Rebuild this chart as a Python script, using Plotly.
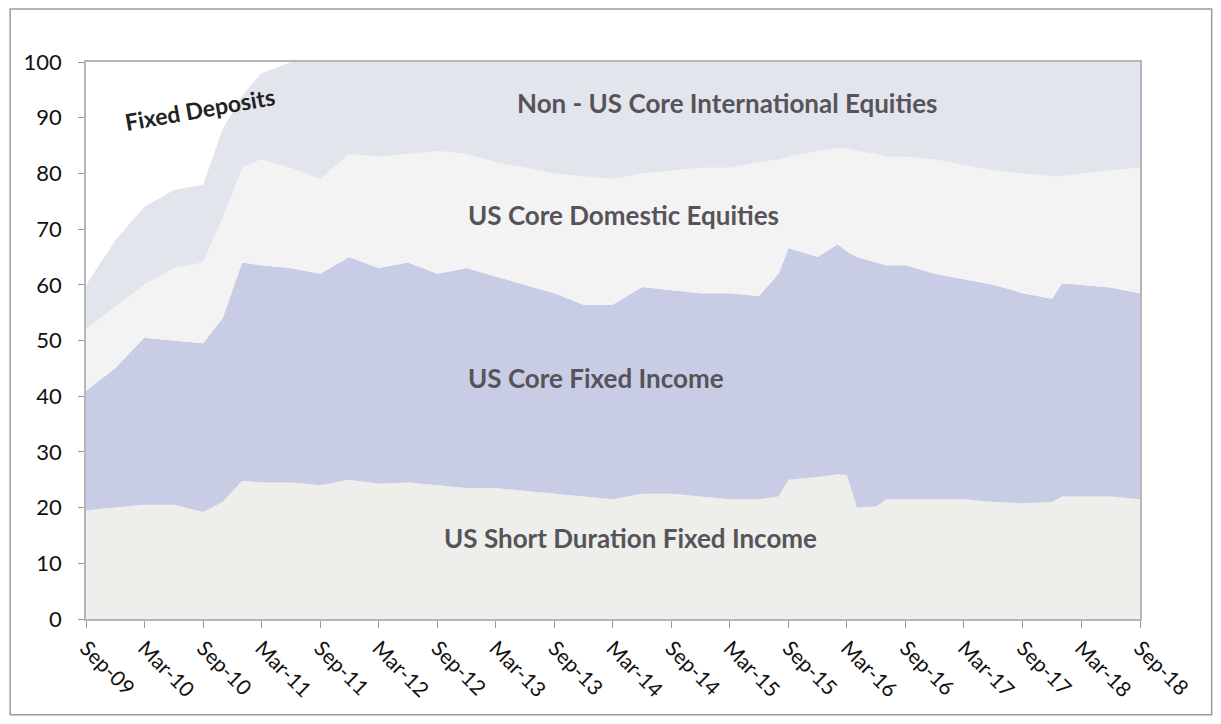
import plotly.graph_objects as go

# month-end observations (irregular where the allocation jumps)
dates = ["2009-09-01", "2009-12-01", "2010-03-01", "2010-06-01", "2010-09-01", "2010-11-01",
         "2011-01-01", "2011-03-01", "2011-06-01", "2011-09-01", "2011-12-01", "2012-03-01",
         "2012-06-01", "2012-09-01", "2012-12-01", "2013-03-01", "2013-06-01", "2013-09-01",
         "2013-12-01", "2014-03-01", "2014-06-01", "2014-09-01", "2014-12-01", "2015-03-01",
         "2015-06-01", "2015-08-01", "2015-09-01", "2015-12-01", "2016-02-01", "2016-03-01",
         "2016-04-01", "2016-06-01", "2016-07-01", "2016-09-01", "2016-12-01", "2017-03-01",
         "2017-06-01", "2017-09-01", "2017-12-01", "2018-01-01", "2018-03-01", "2018-06-01",
         "2018-09-01"]

short_duration = [19.5, 20, 20.5, 20.5, 19.2, 21, 24.8, 24.5, 24.5, 24, 25, 24.3,
                  24.5, 24, 23.5, 23.5, 23, 22.5, 22, 21.5, 22.5, 22.5, 22, 21.5,
                  21.5, 22, 25, 25.5, 26, 25.8, 20, 20.2, 21.5, 21.5, 21.5, 21.5,
                  21, 20.8, 21, 22, 22, 22, 21.5]
core_fixed = [21.5, 25, 30, 29.5, 30.3, 33, 39.2, 39, 38.5, 38, 40, 38.7,
              39.5, 38, 39.5, 38, 37, 36, 34.4, 34.9, 37.1, 36.5, 36.5, 37,
              36.5, 40, 41.6, 39.5, 41.3, 40.2, 45, 43.8, 42, 42, 40.5, 39.5,
              39, 37.7, 36.5, 38.3, 38, 37.5, 37]
domestic_eq = [11, 11, 9.5, 13, 14.5, 18, 17, 19, 18, 17, 18.5, 20,
               19.5, 22, 20.5, 20.5, 21, 21.5, 23.1, 22.6, 20.4, 21.5, 22.5, 22.5,
               24, 20.5, 16.4, 19, 17.2, 18.5, 19, 19.5, 19.5, 19.5, 20.5, 20.5,
               20.5, 21.5, 22, 19.2, 20, 21, 22.5]
intl_eq = [8, 12, 14, 14, 14, 16, 13, 15.5, 19, 21, 16.5, 17,
           16.5, 16, 16.5, 18, 19, 20, 20.5, 21, 20, 19.5, 19, 19,
           18, 17.5, 17, 16, 15.5, 15.5, 16, 16.5, 17, 17, 17.5, 18.5,
           19.5, 20, 20.5, 20.5, 20, 19.5, 19]
fixed_deposits = [40, 32, 26, 23, 22, 12, 6, 2, 0, 0, 0, 0,
                  0, 0, 0, 0, 0, 0, 0, 0, 0, 0, 0, 0,
                  0, 0, 0, 0, 0, 0, 0, 0, 0, 0, 0, 0,
                  0, 0, 0, 0, 0, 0, 0]

tick_dates = ["2009-09-01", "2010-03-01", "2010-09-01", "2011-03-01", "2011-09-01", "2012-03-01",
              "2012-09-01", "2013-03-01", "2013-09-01", "2014-03-01", "2014-09-01", "2015-03-01",
              "2015-09-01", "2016-03-01", "2016-09-01", "2017-03-01", "2017-09-01", "2018-03-01",
              "2018-09-01"]
tick_labels = ["Sep-09", "Mar-10", "Sep-10", "Mar-11", "Sep-11", "Mar-12", "Sep-12", "Mar-13",
               "Sep-13", "Mar-14", "Sep-14", "Mar-15", "Sep-15", "Mar-16", "Sep-16", "Mar-17",
               "Sep-17", "Mar-18", "Sep-18"]

series = [
    ("US Short Duration Fixed Income", short_duration, "#eeeeeb"),
    ("US Core Fixed Income", core_fixed, "#c8cde5"),
    ("US Core Domestic Equities", domestic_eq, "#f3f3f4"),
    ("Non - US Core International Equities", intl_eq, "#e3e5ed"),
    ("Fixed Deposits", fixed_deposits, "#ffffff"),
]

fig = go.Figure()
for name, vals, col in series:
    fig.add_trace(go.Scatter(x=dates, y=vals, name=name, stackgroup="one",
                             mode="lines", line=dict(width=0, color=col),
                             fillcolor=col))

font = "Lato, 'Open Sans', sans-serif"
lab = dict(family=font, size=26, color="#56545a")

# labels on the areas
fig.add_annotation(x=0.609, y=92.6, xref="paper", yref="y", text="<b>Non - US Core International Equities</b>",
                   showarrow=False, font=lab, xanchor="center")
fig.add_annotation(x=0.51, y=72.5, xref="paper", yref="y", text="<b>US Core Domestic Equities</b>",
                   showarrow=False, font=lab, xanchor="center")
fig.add_annotation(x=0.484, y=43.3, xref="paper", yref="y", text="<b>US Core Fixed Income</b>",
                   showarrow=False, font=lab, xanchor="center")
fig.add_annotation(x=0.517, y=14.5, xref="paper", yref="y", text="<b>US Short Duration Fixed Income</b>",
                   showarrow=False, font=lab, xanchor="center")
fig.add_annotation(x=0.108, y=91.5, xref="paper", yref="y", text="<b>Fixed Deposits</b>",
                   showarrow=False, textangle=-10, xanchor="center",
                   font=dict(family=font, size=23, color="#222222"))

# outer frame of the scanned page
fig.add_shape(type="rect", xref="paper", yref="paper", x0=-0.072, x1=1.068, y0=-0.172, y1=1.095,
              line=dict(color="#9a9a9a", width=1.5), layer="below")

fig.update_layout(
    width=1221, height=724,
    margin=dict(l=78, r=89, t=54, b=113),
    paper_bgcolor="white", plot_bgcolor="white",
    showlegend=False,
)
fig.update_xaxes(type="date", range=["2009-09-01", "2018-09-01"], automargin=False,
                 tickvals=tick_dates, ticktext=tick_labels, tickangle=45,
                 tickfont=dict(family=font, size=21, color="#111111"),
                 ticks="outside", ticklen=7, tickcolor="#999999",
                 showline=True, linecolor="#b5b5bb", linewidth=1.5, mirror=True,
                 showgrid=False, zeroline=False)
fig.update_yaxes(range=[0, 100], dtick=10, automargin=False, ticklabelstandoff=12,
                 tickfont=dict(family=font, size=22, color="#111111"),
                 ticks="outside", ticklen=6, tickcolor="#999999",
                 showline=True, linecolor="#b5b5bb", linewidth=1.5, mirror=True,
                 showgrid=False, zeroline=False)

fig.write_html("out.html")
